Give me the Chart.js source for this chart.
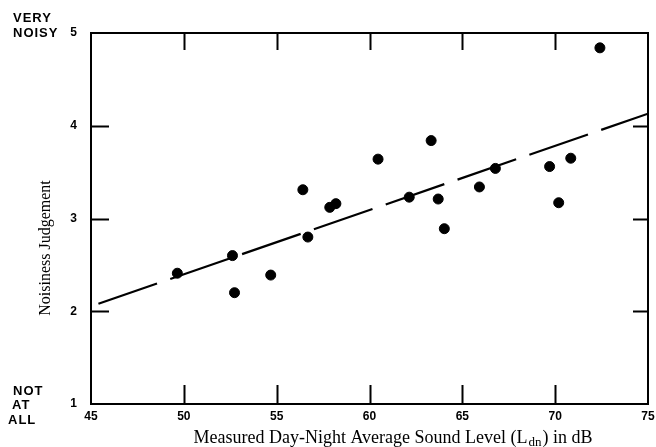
<!DOCTYPE html>
<html><head><meta charset="utf-8">
<script src="https://cdn.jsdelivr.net/npm/chart.js@4.4.1/dist/chart.umd.min.js"></script>
<style>html,body{margin:0;padding:0;background:#fff}#wrap{width:656px;height:447px}</style>
</head><body><div id="wrap"><canvas id="c" width="656" height="447"></canvas></div>
<script>
// Data
const soundLevel = [49.65,52.62,52.73,54.68,56.41,56.68,57.86,58.19,60.46,62.14,63.32,63.70,64.03,65.92,66.78,69.70,70.19,70.84,72.41];
const judgement  = [2.41,2.60,2.20,2.39,3.31,2.80,3.12,3.16,3.64,3.23,3.84,3.21,2.89,3.34,3.54,3.56,3.17,3.65,4.84];
const trendX = [45.4, 75];
const trendY = [2.08, 4.13];
const xTicks = [45,50,55,60,65,70,75];
const yTicks = [1,2,3,4,5];
const topLabel = ['VERY','NOISY'];
const bottomLabel = ['NOT','AT','ALL'];
const xTitleParts = ['Measured Day-Night Average Sound Level (L','dn',') in dB'];
const yTitle = 'Noisiness Judgement';

const pts = soundLevel.map((x,i)=>({x:x,y:judgement[i]}));
const trend = trendX.map((x,i)=>({x:x,y:trendY[i]}));

const decor = {
  id:'decor',
  afterDraw(chart){
    const ctx = chart.ctx, a = chart.chartArea;
    const xs = chart.scales.x, ys = chart.scales.y;
    ctx.save();
    ctx.strokeStyle = '#000';
    ctx.lineWidth = 2;
    ctx.strokeRect(a.left, a.top, a.right-a.left, a.bottom-a.top);
    // inward ticks
    ctx.beginPath();
    xTicks.slice(1,-1).forEach(v=>{
      const px = Math.round(xs.getPixelForValue(v))+0.5;
      ctx.moveTo(px, a.bottom); ctx.lineTo(px, a.bottom-19);
      ctx.moveTo(px, a.top); ctx.lineTo(px, a.top+17);
    });
    yTicks.slice(1,-1).forEach(v=>{
      const py = Math.round(ys.getPixelForValue(v))+0.5;
      ctx.moveTo(a.left, py); ctx.lineTo(a.left+18, py);
      ctx.moveTo(a.right, py); ctx.lineTo(a.right-15, py);
    });
    ctx.stroke();
    // side labels
    ctx.fillStyle = '#000';
    ctx.textBaseline = 'middle';
    ctx.textAlign = 'left';
    ctx.font = 'bold 13px "Liberation Sans", Arial, sans-serif';
    ctx.letterSpacing = '1px';
    ctx.fillText(topLabel[0], 13, 18);
    ctx.fillText(topLabel[1], 13, 33);
    ctx.fillText(bottomLabel[0], 13, 391);
    ctx.fillText(bottomLabel[1], 12, 405);
    ctx.fillText(bottomLabel[2], 8, 420);
    ctx.letterSpacing = '0px';
    // y title
    ctx.save();
    ctx.translate(46, 248);
    ctx.rotate(-Math.PI/2);
    ctx.textAlign = 'center';
    ctx.font = '16px "Liberation Serif", "Times New Roman", serif';
    ctx.fillText(yTitle, 0, 0);
    ctx.restore();
    // x title with subscript
    const big = '18px "Liberation Serif", "Times New Roman", serif';
    const small = '13px "Liberation Serif", "Times New Roman", serif';
    ctx.textBaseline = 'alphabetic';
    ctx.font = big; const w1 = ctx.measureText(xTitleParts[0]).width;
    ctx.font = small; const w2 = ctx.measureText(xTitleParts[1]).width;
    ctx.font = big; const w3 = ctx.measureText(xTitleParts[2]).width;
    let x0 = 394 - (w1+w2+w3)/2 - 2;
    const base = 443;
    ctx.font = big; ctx.fillText(xTitleParts[0], x0, base);
    ctx.font = small; ctx.fillText(xTitleParts[1], x0+w1+1, base+3);
    ctx.font = big; ctx.fillText(xTitleParts[2], x0+w1+w2+2, base);
    ctx.restore();
  }
};

new Chart(document.getElementById('c'), {
  type:'scatter',
  data:{datasets:[
    {data:pts, backgroundColor:'#000', borderColor:'#000', pointRadius:5, pointHoverRadius:5},
    {type:'line', data:trend, borderColor:'#000', borderWidth:2.2, borderDash:[62,14], pointRadius:0, fill:false}
  ]},
  options:{
    responsive:false, animation:false, devicePixelRatio:1,
    layout:{padding:{top:33,right:8,left:0,bottom:0}},
    plugins:{legend:{display:false}, tooltip:{enabled:false}},
    scales:{
      x:{type:'linear', min:45, max:75,
        afterBuildTicks(s){ s.ticks = xTicks.map(v=>({value:v})); },
        afterFit(s){ s.height = 43; s.paddingLeft = 0; s.paddingRight = 0; },
        grid:{display:false, drawTicks:false}, border:{display:false},
        ticks:{color:'#000', padding:5, autoSkip:false, maxRotation:0,
          font:{family:'"Liberation Sans", Arial, sans-serif', size:12, weight:'bold'}}},
      y:{type:'linear', min:1, max:5,
        afterBuildTicks(s){ s.ticks = yTicks.map(v=>({value:v})); },
        afterFit(s){ s.width = 91; s.paddingTop = 0; s.paddingBottom = 0; },
        grid:{display:false, drawTicks:false}, border:{display:false},
        ticks:{color:'#000', padding:14,
          font:{family:'"Liberation Sans", Arial, sans-serif', size:12, weight:'bold'}}}
    }
  },
  plugins:[decor]
});
</script></body></html>
